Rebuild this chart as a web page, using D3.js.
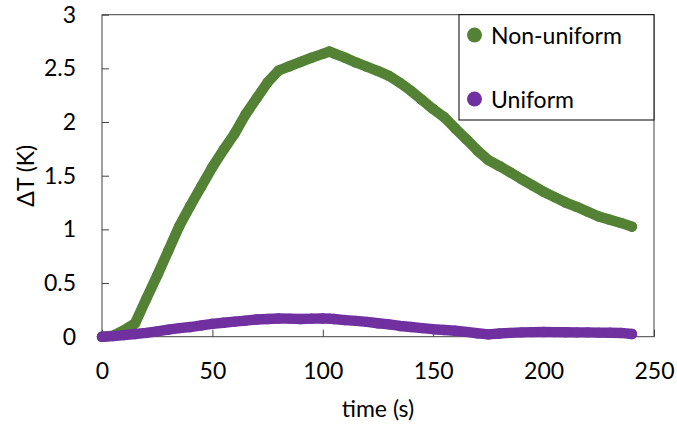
<!DOCTYPE html>
<html>
<head>
<meta charset="utf-8">
<script src="https://cdn.jsdelivr.net/npm/d3@7/dist/d3.min.js"></script>
<style>
  html, body { margin: 0; padding: 0; background: #ffffff; }
  svg { display: block; }
  text { font-family: Lato, "Open Sans", sans-serif; fill: #000; }
</style>
</head>
<body>
<svg id="chart" width="677" height="424"></svg>
<script>
// Temperature rise over time for the two heating cases
const times = [0, 5, 10, 15, 20, 25, 30, 35, 40, 45, 50, 55, 60, 65, 70, 75, 80, 85, 90, 95,
  100, 103, 105, 110, 115, 120, 125, 130, 135, 140, 145, 150, 155, 160, 165, 170, 175, 180,
  185, 190, 195, 200, 205, 210, 215, 220, 225, 230, 235, 240];

const nonUniform = [0.00, 0.01, 0.06, 0.125, 0.35, 0.57, 0.80, 1.03, 1.22, 1.40, 1.58, 1.74, 1.89,
  2.07, 2.22, 2.37, 2.48, 2.52, 2.56, 2.60, 2.635, 2.657, 2.64, 2.60, 2.555, 2.515, 2.475, 2.43,
  2.365, 2.29, 2.205, 2.12, 2.045, 1.94, 1.84, 1.735, 1.645, 1.59, 1.53, 1.468, 1.41, 1.35,
  1.30, 1.25, 1.21, 1.165, 1.12, 1.09, 1.06, 1.025];

const uniform = [0.00, 0.005, 0.015, 0.025, 0.035, 0.05, 0.065, 0.08, 0.09, 0.105, 0.12, 0.13,
  0.14, 0.15, 0.16, 0.165, 0.17, 0.168, 0.165, 0.168, 0.17, 0.168, 0.165, 0.155, 0.147, 0.138,
  0.125, 0.115, 0.10, 0.09, 0.08, 0.07, 0.063, 0.055, 0.045, 0.032, 0.022, 0.03, 0.036, 0.04,
  0.043, 0.044, 0.043, 0.042, 0.04, 0.04, 0.038, 0.037, 0.035, 0.025];

const xTicks = [0, 50, 100, 150, 200, 250];
const yTicks = [0, 0.5, 1, 1.5, 2, 2.5, 3];

const seriesNames = ["Non-uniform", "Uniform"];
const seriesColors = ["#548235", "#7030A0"];

const svg = d3.select("#chart");
const plot = { left: 102, top: 14.7, right: 654, bottom: 336.7 };

const x = d3.scaleLinear().domain([0, 250]).range([plot.left, plot.right]);
const y = d3.scaleLinear().domain([0, 3]).range([plot.bottom, plot.top]);

const fontSize = 23;
const axisColor = "#404040";

// axes with inward ticks
const gx = svg.append("g")
  .attr("transform", `translate(0,${plot.bottom})`)
  .call(d3.axisBottom(x).tickValues(xTicks).tickFormat(d3.format("d"))
    .tickSizeInner(-7).tickSizeOuter(0).tickPadding(26));
const gy = svg.append("g")
  .attr("transform", `translate(${plot.left},0)`)
  .call(d3.axisLeft(y).tickValues(yTicks).tickFormat(d => String(d))
    .tickSizeInner(-7).tickSizeOuter(0).tickPadding(26));

[gx, gy].forEach(g => {
  g.select(".domain").remove();
  g.selectAll(".tick line").attr("stroke", axisColor).attr("stroke-width", 1);
  g.selectAll(".tick text")
    .style("font-family", "Lato, 'Open Sans', sans-serif")
    .style("font-size", fontSize + "px")
    .attr("fill", "#000");
});

// plot frame
svg.append("rect")
  .attr("x", plot.left).attr("y", plot.top)
  .attr("width", plot.right - plot.left).attr("height", plot.bottom - plot.top)
  .attr("fill", "none").attr("stroke", axisColor).attr("stroke-width", 1);

// series drawn as dense markers joined by a band of the same width
const markerR = 5.2;
const datasets = [nonUniform, uniform].map((vals, i) => ({
  name: seriesNames[i],
  color: seriesColors[i],
  points: times.map((t, j) => ({ t, v: vals[j] }))
}));

const line = d3.line().x(d => x(d.t)).y(d => y(d.v));

const seriesG = svg.append("g");
datasets.forEach(ds => {
  const g = seriesG.append("g");
  g.append("path")
    .datum(ds.points)
    .attr("d", line)
    .attr("fill", "none")
    .attr("stroke", ds.color)
    .attr("stroke-width", markerR * 2)
    .attr("stroke-linejoin", "round")
    .attr("stroke-linecap", "round");
  g.selectAll("circle")
    .data(ds.points)
    .join("circle")
    .attr("cx", d => x(d.t))
    .attr("cy", d => y(d.v))
    .attr("r", markerR)
    .attr("fill", ds.color);
});

// axis titles
svg.append("text")
  .attr("x", (plot.left + plot.right) / 2)
  .attr("y", 408)
  .attr("text-anchor", "middle")
  .attr("dominant-baseline", "central")
  .style("font-size", fontSize + "px")
  .text("time (s)");

svg.append("text")
  .attr("transform", `translate(25,${(plot.top + plot.bottom) / 2}) rotate(-90)`)
  .attr("text-anchor", "middle")
  .attr("dominant-baseline", "central")
  .style("font-size", fontSize + "px")
  .text("ΔT (K)");

// legend
const legend = svg.append("g");
legend.append("rect")
  .attr("x", 459).attr("y", plot.top)
  .attr("width", plot.right - 459).attr("height", 120 - plot.top)
  .attr("fill", "#fff").attr("stroke", "#000").attr("stroke-width", 1);

const legendRows = [35, 99];
datasets.forEach((ds, i) => {
  legend.append("circle")
    .attr("cx", 474.5).attr("cy", legendRows[i])
    .attr("r", 7.5).attr("fill", ds.color);
  legend.append("text")
    .attr("x", 491).attr("y", legendRows[i])
    .attr("dominant-baseline", "central")
    .style("font-size", fontSize + "px")
    .text(ds.name);
});
</script>
</body>
</html>
